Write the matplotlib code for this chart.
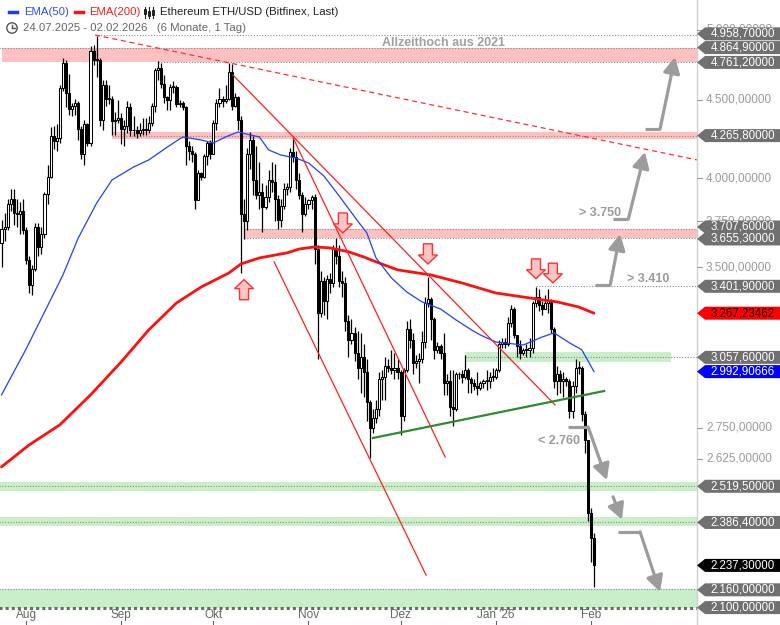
import matplotlib
matplotlib.use('Agg')
import matplotlib.pyplot as plt
import pandas as pd
from matplotlib.patches import Polygon, Circle
from matplotlib.transforms import blended_transform_factory, IdentityTransform
from matplotlib.lines import Line2D

plt.rcParams['font.family'] = ['Liberation Sans', 'DejaVu Sans']

# ---- data (daily candles, 24.07.2025 - 02.02.2026) ----
start_date = '2025-07-24'
first_open = 3630
closes = [3710, 3720, 3850, 3880, 3800, 3790, 3810, 3700, 3540, 3410,
          3490, 3720, 3610, 3680, 3910, 4010, 4260, 4230, 4250, 4580,
          4760, 4550, 4440, 4460, 4480, 4310, 4150, 4340, 4220, 4840,
          4780, 4780, 4370, 4600, 4510, 4510, 4360, 4370, 4380, 4310,
          4330, 4450, 4300, 4300, 4280, 4300, 4310, 4300, 4350, 4460,
          4710, 4720, 4610, 4520, 4500, 4590, 4590, 4470, 4480, 4450,
          4200, 4170, 4150, 3870, 4030, 4010, 4140, 4220, 4150, 4350,
          4480, 4510, 4490, 4510, 4690, 4460, 4520, 4370, 3790, 3750,
          4150, 4240, 3990, 3900, 3920, 3830, 3890, 3990, 3980, 3880,
          3760, 3840, 3940, 3950, 4160, 4130, 3990, 3900, 3790, 3850,
          3870, 3890, 3600, 3270, 3430, 3330, 3440, 3420, 3600, 3560,
          3430, 3420, 3230, 3140, 3170, 3080, 3010, 3060, 2990, 2860,
          2750, 2790, 2830, 2960, 2970, 3020, 3010, 3000, 3010, 2990,
          2800, 3000, 3190, 3140, 3030, 3040, 3050, 3130, 3320, 3340,
          3240, 3090, 3110, 3080, 2940, 2950, 2840, 2830, 2980, 2980,
          2970, 3000, 2960, 2940, 2930, 2920, 2940, 2950, 2950, 2970,
          2970, 3000, 3120, 3130, 3120, 3220, 3290, 3160, 3110, 3080,
          3090, 3090, 3100, 3320, 3350, 3310, 3290, 3320, 3330, 3190,
          2950, 2980, 2950, 2960, 2950, 2820, 2930, 3010, 3010, 2810,
          2700, 2420, 2330, 2237.3]
highs = [3760, 3800, 3880, 3940, 3940, 3880, 3860, 3880, 3720, 3560,
         3510, 3740, 3740, 3720, 3920, 4080, 4320, 4330, 4340, 4600,
         4790, 4780, 4680, 4480, 4510, 4490, 4330, 4370, 4350, 4880,
         4890, 4955, 4790, 4640, 4640, 4600, 4530, 4420, 4500, 4410,
         4370, 4490, 4480, 4390, 4330, 4350, 4380, 4380, 4390, 4480,
         4720, 4770, 4760, 4670, 4530, 4610, 4630, 4600, 4500, 4490,
         4460, 4230, 4200, 4160, 4050, 4040, 4150, 4230, 4240, 4370,
         4510, 4580, 4530, 4600, 4760, 4750, 4550, 4530, 4390, 3880,
         4190, 4290, 4260, 4200, 4100, 3970, 3960, 4050, 4100, 4090,
         3900, 3880, 3970, 3970, 4190, 4250, 4170, 4030, 3920, 3890,
         3880, 3900, 3910, 3620, 3480, 3450, 3460, 3470, 3620, 3660,
         3620, 3480, 3450, 3260, 3240, 3200, 3180, 3170, 3120, 3050,
         2870, 2830, 2870, 2990, 3000, 3060, 3050, 3090, 3080, 3050,
         3000, 3010, 3230, 3240, 3170, 3070, 3080, 3180, 3350, 3450,
         3350, 3250, 3130, 3120, 3170, 2980, 3000, 3000, 2990, 2990,
         3000, 3070, 3010, 2970, 2960, 2990, 2950, 2960, 3000, 2990,
         3010, 3010, 3140, 3150, 3150, 3250, 3310, 3300, 3160, 3140,
         3100, 3120, 3150, 3330, 3400, 3390, 3330, 3360, 3390, 3340,
         3200, 3020, 3000, 2990, 2970, 2960, 2950, 3050, 3040, 3020,
         2820, 2700, 2440, 2350]
lows = [3500, 3640, 3700, 3810, 3730, 3720, 3680, 3680, 3520, 3370,
        3360, 3480, 3560, 3570, 3660, 3850, 4000, 4180, 4170, 4220,
        4560, 4450, 4400, 4390, 4400, 4240, 4120, 4080, 4200, 4200,
        4740, 4660, 4330, 4300, 4460, 4470, 4270, 4270, 4350, 4210,
        4200, 4280, 4260, 4260, 4250, 4260, 4270, 4270, 4280, 4330,
        4420, 4640, 4580, 4480, 4430, 4430, 4550, 4450, 4450, 4430,
        4080, 4110, 4100, 3820, 3870, 3990, 4000, 4080, 4120, 4150,
        4300, 4450, 4450, 4480, 4500, 4430, 4450, 4300, 3470, 3650,
        3700, 4060, 3900, 3880, 3820, 3690, 3820, 3860, 3920, 3750,
        3710, 3720, 3820, 3900, 3920, 4100, 3940, 3880, 3690, 3780,
        3820, 3820, 3520, 3050, 3250, 3260, 3240, 3370, 3400, 3520,
        3400, 3350, 3180, 3060, 3120, 3040, 2960, 2900, 2880, 2780,
        2630, 2730, 2770, 2800, 2870, 2870, 2990, 2980, 2960, 2960,
        2720, 2780, 2990, 3100, 2980, 3010, 2940, 3030, 3100, 3300,
        3140, 3050, 3080, 3050, 2890, 2890, 2800, 2760, 2820, 2960,
        2940, 2960, 2900, 2900, 2910, 2890, 2910, 2920, 2910, 2920,
        2950, 2960, 2990, 3100, 3100, 3110, 3200, 3150, 3060, 3050,
        3070, 3060, 3060, 3080, 3300, 3280, 3260, 3290, 3270, 3170,
        2920, 2890, 2900, 2880, 2930, 2790, 2790, 2900, 2980, 2780,
        2650, 2390, 2250, 2165]

ema50_days = [0, 8, 16, 20, 25, 31, 36, 43, 48, 54, 59, 65, 69, 73, 77, 81, 84, 87,
              91, 96, 100, 105, 110, 116, 119, 122, 127, 132, 137, 143, 148, 153,
              156, 161, 170, 176, 180, 185, 189, 193]
ema50_vals = [2890, 3096, 3334, 3460, 3658, 3855, 3991, 4069, 4113, 4193, 4257, 4238,
              4219, 4257, 4289, 4270, 4257, 4175, 4143, 4124, 4094, 4015, 3896, 3753,
              3686, 3550, 3445, 3373, 3323, 3288, 3235, 3187, 3162, 3129, 3115, 3152,
              3172, 3125, 3093, 2992.9]
ema200_days = [0, 9, 19, 29, 39, 48, 57, 65, 74, 78, 84, 93, 97, 102, 107, 113, 118,
               123, 129, 140, 150, 161, 172, 181, 188, 193]
ema200_vals = [2594, 2681, 2763, 2890, 3037, 3187, 3318, 3398, 3470, 3518, 3550, 3577,
               3598, 3609, 3604, 3583, 3555, 3523, 3487, 3460, 3419, 3368, 3343, 3323,
               3298, 3267.2]

# price levels (zones) and marked values on the right scale
red_zones = [(4761.2, 4864.9, 0), (4245, 4290, 36), (3655.3, 3707.6, 79)]
green_zones = [(3037, 3083, 151, 218), (2500, 2535, -1, 230), (2375, 2407, -1, 230),
               (2100, 2160, -1, 230)]
dotted_levels = [(4958.7, 30.5), (4864.9, -1), (4761.2, 51), (4265.8, 36),
                 (3707.6, 79), (3655.3, 79), (3401.9, 174), (3057.6, 151),
                 (2519.5, -1), (2386.4, -1), (2160, -1)]
tick_prices = [5000, 4500, 4000, 3750, 3500, 2750, 2625]
tag_prices = [4958.7, 4864.9, 4761.2, 4265.8, 3707.6, 3655.3, 3401.9, 3267.23462,
              3057.6, 2992.90666, 2519.5, 2386.4, 2237.3, 2160, 2100]
tag_colors = ['#707070'] * 7 + ['#ff0000', '#707070', '#0000ff', '#707070', '#707070',
                                '#000000', '#707070', '#707070']
tag_text_colors = ['white'] * 7 + ['#200000', 'white', 'white', 'white', 'white',
                                   'white', 'white', 'white']
# small pixel nudges so stacked tags do not cover each other
tag_nudge = [1.5, 0.5, 0, 0, 2, -0.5, 0, 0, 0, 0, 0, 0, 0, -1, 0]

# trend lines (day, price) -> (day, price)
red_trend = [((75.4, 4672), (180.3, 2847)), ((95, 4250), (144.5, 2633)),
             ((88.8, 3529), (138.3, 2205))]
red_dashed = ((30.5, 4961), (226.5, 4113))
green_trend = ((121, 2709), (196.3, 2907))

month_labels = ['Aug', 'Sep', 'Okt', 'Nov', 'Dez', "Jan '26", 'Feb']
month_dates = ['2025-08-01', '2025-09-01', '2025-10-01', '2025-11-01', '2025-12-01',
               '2026-01-01', '2026-02-01']

W, H = 780, 625
fig = plt.figure(figsize=(W / 100, H / 100), dpi=100)
fig.patch.set_facecolor('white')
ax = fig.add_axes([0, 0, 697 / W, 1])
ax.set_yscale('log')
ax.set_xlim(-0.49, 226.55)
ax.set_ylim(2045.8, 5229)
ax.axis('off')

days = list(range(len(closes)))
opens = [first_open] + closes[:-1]

# zones
for lo, hi, d0 in red_zones:
    ax.fill_between([d0, 230], lo, hi, color='#ffc0c0', lw=0, zorder=1)
for lo, hi, d0, d1 in green_zones:
    ax.fill_between([d0, d1], lo, hi, color='#c8efc8', lw=0, zorder=1)
for p, d0 in dotted_levels:
    ax.plot([d0, 230], [p, p], color='#8a8a8a', lw=0.8, ls=(0, (1, 1.5)), zorder=2)
ax.plot([-1, 230], [2100, 2100], color='#6a6a6a', lw=2.2, ls=(0, (1, 1)), zorder=2)

# candles
ax.vlines(days, lows, highs, color='black', lw=0.9, zorder=3)
bottoms = [min(o, c) for o, c in zip(opens, closes)]
heights = [max(abs(c - o), 4) for o, c in zip(opens, closes)]
fills = ['white' if c >= o else 'black' for o, c in zip(opens, closes)]
ax.bar(days, heights, bottom=bottoms, width=0.68, color=fills, edgecolor='black',
       linewidth=0.75, zorder=3.5)

# moving averages
ax.plot(ema200_days, ema200_vals, color='#ff1010', lw=2.0, zorder=4, solid_capstyle='round')
ax.plot(ema50_days, ema50_vals, color='#2040ff', lw=0.9, zorder=4)

# trend lines
for (d0, p0), (d1, p1) in red_trend:
    ax.plot([d0, d1], [p0, p1], color='#ff2020', lw=0.9, zorder=5)
(d0, p0), (d1, p1) = red_dashed
ax.plot([d0, d1], [p0, p1], color='#ff3030', lw=0.9, ls=(0, (4, 3)), zorder=5)
(d0, p0), (d1, p1) = green_trend
ax.plot([d0, d1], [p0, p1], color='#2e8b2e', lw=1.6, zorder=5)

# gray scenario arrows
gray = '#9c9c9c'
scenarios = [
    [(193.2, 3410), (198.3, 3410), (201.5, 3680)],
    [(199.2, 3764), (204.2, 3764), (209.6, 4162)],
    [(209.6, 4308), (214.5, 4308), (219.4, 4800)],
    [(184.5, 2754), (191.1, 2754), (197.2, 2543)],
    [(199.2, 2480), (199.2, 2480), (202.1, 2396)],
    [(200.8, 2353), (208.0, 2353), (214.5, 2150)],
]
for pts in scenarios:
    (a, pa), (b, pb), (c, pc) = pts
    if a != b:
        ax.plot([a, b], [pa, pb], color=gray, lw=2.3, zorder=6, solid_capstyle='butt')
    ax.annotate('', xy=(c, pc), xytext=(b, pb),
                arrowprops=dict(arrowstyle='-|>,head_length=0.8,head_width=0.42',
                                color=gray, lw=2.3, shrinkA=0, shrinkB=0,
                                mutation_scale=12), zorder=6)
ax.text(210.6, 3440, '> 3.410', color=gray, fontsize=9, fontweight='bold',
        ha='center', va='center', zorder=6)
ax.text(194.9, 3798, '> 3.750', color=gray, fontsize=9, fontweight='bold',
        ha='center', va='center', zorder=6)
ax.text(181.6, 2697, '< 2.760', color=gray, fontsize=9, fontweight='bold',
        ha='center', va='center', zorder=6)
ax.text(144.1, 4902, 'Allzeithoch aus 2021', color='#a0a0a0', fontsize=9,
        fontweight='bold', ha='center', va='center', zorder=6)

# pink block arrows (signals)
signal_arrows = [(79.0, 3334, 3436), (111.2, 3798, 3686), (138.9, 3626, 3518),
                 (174.1, 3545, 3441), (179.6, 3522, 3420)]
ident = IdentityTransform()
for d, p_tail, p_tip in signal_arrows:
    x, yt = ax.transData.transform((d, p_tail))
    _, yp = ax.transData.transform((d, p_tip))
    s = 1 if yp > yt else -1
    sw, hw, hl = 4.5, 9.5, 9
    pts = [(x - sw, yt), (x + sw, yt), (x + sw, yp - s * hl), (x + hw, yp - s * hl),
           (x, yp), (x - hw, yp - s * hl), (x - sw, yp - s * hl)]
    fig.add_artist(Polygon(pts, closed=True, transform=ident, facecolor='#ffc4c4',
                           edgecolor='#ff3030', lw=1.0, zorder=7))

# right scale
fig.add_artist(Line2D([697 / W, 697 / W], [0, 1], color='#d0d0d0', lw=1.0))


def fmt(v):
    s = f'{v:,.5f}'
    return s.replace(',', '#').replace('.', ',').replace('#', '.')


for p in tick_prices:
    _, y = ax.transData.transform((0, p))
    fig.add_artist(Line2D([697 / W, 702 / W], [y / H, y / H], color='#a0a0a0', lw=0.8))
    fig.text(706 / W, y / H, fmt(p), color='#9a9a9a', fontsize=8.5, va='center',
             ha='left')

for p, bg, fg, dy in zip(tag_prices, tag_colors, tag_text_colors, tag_nudge):
    _, y = ax.transData.transform((0, p))
    y += dy
    pts = [(697, y), (705, y + 6.5), (780, y + 6.5), (780, y - 6.5), (705, y - 6.5)]
    fig.add_artist(Polygon(pts, closed=True, transform=ident, facecolor=bg,
                           edgecolor='none', zorder=8))
    fig.text(743 / W, y / H, fmt(p), color=fg, fontsize=8.3, va='center',
             ha='center', zorder=9)

# time axis
t0 = pd.Timestamp(start_date)
bt = blended_transform_factory(ax.transData, ax.transAxes)
for lab, ds in zip(month_labels, month_dates):
    d = (pd.Timestamp(ds) - t0).days
    ax.text(d, 1 - 615 / H, lab, transform=bt, color='#666666', fontsize=8.5,
            ha='center', va='center', clip_on=False)
    ax.plot([d, d], [0, 4 / H], transform=bt, color='#666666', lw=0.8, clip_on=False)

# header
fig.add_artist(Line2D([9 / W, 17 / W], [1 - 12 / H] * 2, color='#1a3cff', lw=2.5))
fig.text(24 / W, 1 - 12 / H, 'EMA(50)', color='#2a4cff', fontsize=8.2, va='center')
fig.add_artist(Line2D([75 / W, 83 / W], [1 - 12 / H] * 2, color='#ff1010', lw=2.5))
fig.text(89 / W, 1 - 12 / H, 'EMA(200)', color='#ff1a1a', fontsize=8.2, va='center')
for i, (xx, b0, b1) in enumerate([(145, 9, 14), (149, 11, 16), (153, 10, 15)]):
    fig.add_artist(Line2D([xx / W] * 2, [1 - 7 / H, 1 - 18 / H], color='#222222', lw=0.8))
    fig.add_artist(Polygon([(xx - 1.3, H - b0), (xx + 1.3, H - b0), (xx + 1.3, H - b1),
                            (xx - 1.3, H - b1)], closed=True, transform=ident,
                           facecolor='white' if i == 1 else '#222222',
                           edgecolor='#222222', lw=0.7))
fig.text(160 / W, 1 - 12 / H, 'Ethereum ETH/USD (Bitfinex, Last)', color='#222222',
         fontsize=8.2, va='center')
fig.add_artist(Circle((12, H - 28), 5.2, transform=ident, fill=False,
                      edgecolor='#555555', lw=1.0))
fig.add_artist(Line2D([12, 12], [H - 28, H - 24.5], transform=ident, color='#555555', lw=1.0))
fig.add_artist(Line2D([12, 14.5], [H - 28, H - 28], transform=ident, color='#555555', lw=1.0))
fig.text(23 / W, 1 - 28 / H, '24.07.2025 - 02.02.2026   (6 Monate, 1 Tag)',
         color='#666666', fontsize=8.2, va='center')

fig.savefig('out.png', dpi=100)
